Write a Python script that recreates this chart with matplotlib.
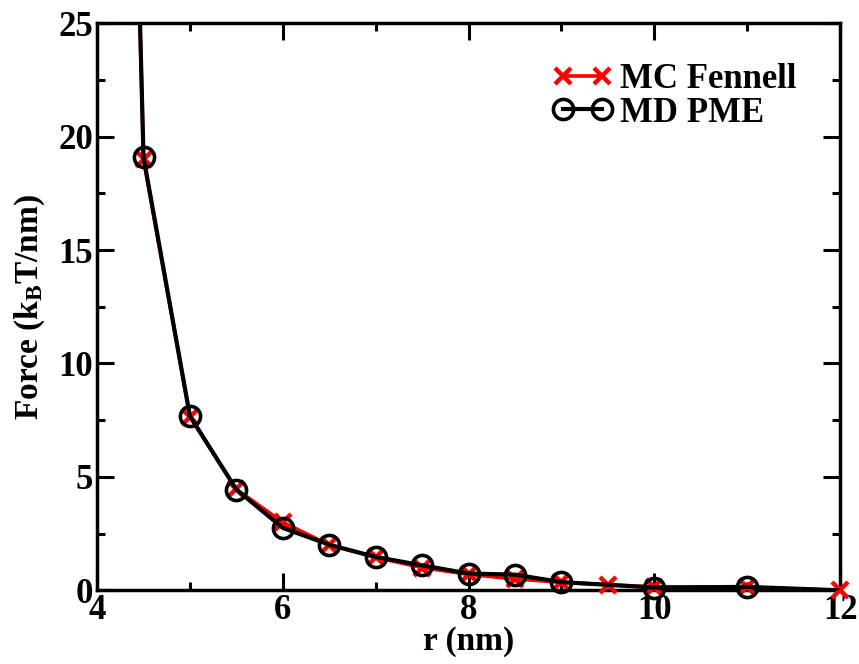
import matplotlib
matplotlib.use("Agg")
import matplotlib.pyplot as plt
import numpy as np
from matplotlib.lines import Line2D
from matplotlib.ticker import MultipleLocator

plt.rcParams['font.family'] = ['Liberation Serif', 'DejaVu Serif']
plt.rcParams['font.weight'] = 'bold'
plt.rcParams['mathtext.fontset'] = 'custom'
plt.rcParams['mathtext.rm'] = 'Liberation Serif:bold'
plt.rcParams['mathtext.it'] = 'Liberation Serif:bold'
plt.rcParams['mathtext.bf'] = 'Liberation Serif:bold'

# MC Fennell
mc_r = np.array([4.0, 4.5, 5.0, 5.5, 6.0, 6.5, 7.0, 7.5, 8.0, 8.5, 9.0, 9.5, 10.0, 11.0, 12.0])
mc_f = np.array([98.0, 19.0, 7.65, 4.45, 3.0, 2.0, 1.45, 1.0, 0.7, 0.5, 0.35, 0.25, 0.15, 0.13, 0.0])
# MD PME
md_r = np.array([4.0, 4.5, 5.0, 5.5, 6.0, 6.5, 7.0, 7.5, 8.0, 8.5, 9.0, 10.0, 11.0, 12.0])
md_f = np.array([98.0, 19.1, 7.68, 4.44, 2.75, 2.01, 1.47, 1.1, 0.74, 0.69, 0.36, 0.12, 0.15, 0.0])
md_marked = np.array([False] + [True] * 12 + [False])

fig = plt.figure(figsize=(8.59, 6.64), dpi=100)
ax = fig.add_axes([0.113, 0.111, 0.865, 0.854])

red = '#ff0000'
# lines (clipped)
ax.plot(mc_r, mc_f, color=red, lw=2.6, zorder=2)
ax.plot(md_r, md_f, color='black', lw=3.0, zorder=4)
# markers (unclipped, only in view)
mvis = mc_r >= 4.5
ax.plot(mc_r[mvis], mc_f[mvis], ls='none', marker='x', ms=11, mew=3.2,
        color=red, clip_on=False, zorder=3)
ax.plot(md_r[md_marked], md_f[md_marked], ls='none', marker='o', ms=14.5, mew=2.6,
        mfc='none', mec='black', clip_on=False, zorder=5)

ax.set_xlim(4, 12)
ax.set_ylim(0, 25)
ax.xaxis.set_major_locator(MultipleLocator(2))
ax.xaxis.set_minor_locator(MultipleLocator(1))
ax.yaxis.set_major_locator(MultipleLocator(5))
ax.yaxis.set_minor_locator(MultipleLocator(2.5))
ax.tick_params(which='both', direction='in', top=True, right=True, width=2.2,
               labelsize=25)
ax.tick_params(which='major', length=12)
ax.tick_params(which='minor', length=6)
ax.tick_params(axis='x', which='major', pad=3)
ax.tick_params(axis='y', which='major', pad=3)
for s in ax.spines.values():
    s.set_linewidth(2.5)
for lab in ax.get_xticklabels() + ax.get_yticklabels():
    lab.set_fontweight('bold')

ax.set_xlabel('r (nm)', fontsize=24, fontweight='bold', labelpad=-1)
ax.set_ylabel(r'Force (k$_\mathrm{B}$T/nm)', fontsize=24, fontweight='bold', labelpad=8)

handles = [
    Line2D([], [], color=red, lw=2.6, marker='x', ms=11, mew=3.2),
    Line2D([], [], color='black', lw=3.0, marker='o', ms=14.5, mew=2.6, mfc='none'),
]
leg = ax.legend(handles, ['MC Fennell', 'MD PME'], loc='upper left', frameon=False,
                numpoints=2, fontsize=25, handlelength=1.73, handletextpad=0.21,
                labelspacing=0.02, bbox_to_anchor=(0.613, 0.93), borderaxespad=0,
                borderpad=0)
for t in leg.get_texts():
    t.set_fontweight('bold')

fig.savefig('out.png', dpi=100)
